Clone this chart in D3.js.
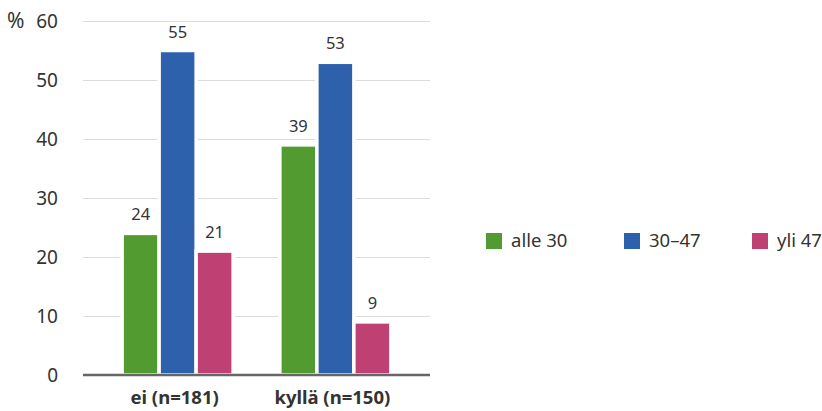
<!DOCTYPE html>
<html>
<head>
<meta charset="utf-8">
<script src="https://cdn.jsdelivr.net/npm/d3@7"></script>
<style>
  html, body { margin: 0; padding: 0; background: #fff; }
  svg text { font-family: "Noto Sans", "Open Sans", sans-serif; fill: #333; }
</style>
</head>
<body>
<svg id="chart" width="822" height="411"></svg>
<script>
// Age groups shown as series
const seriesNames = ["alle 30", "30–47", "yli 47"];
const seriesColors = ["#529b30", "#2e61ac", "#bf4073"];
// Categories on the x axis
const categories = ["ei (n=181)", "kyllä (n=150)"];
// Percentages, one array per series (same order as categories)
const alle30 = [24, 39];
const v30to47 = [55, 53];
const yli47 = [21, 9];
const yTicks = [0, 10, 20, 30, 40, 50, 60];

const values = [alle30, v30to47, yli47];

const svg = d3.select("#chart");
const plot = { left: 83, right: 430, top: 21, bottom: 375 };

const y = d3.scaleLinear().domain([0, 60]).range([plot.bottom, plot.top]);
const x = d3.scalePoint().domain(categories).range([plot.left, plot.right]).padding(0.6);
const xs = d3.scaleBand().domain(d3.range(seriesNames.length)).range([-55.5, 55.5]).padding(0);

// Gridlines (skip baseline)
svg.append("g")
  .selectAll("line")
  .data(yTicks.filter(d => d > 0))
  .join("line")
  .attr("x1", plot.left).attr("x2", plot.right)
  .attr("y1", d => Math.round(y(d)) + 0.5).attr("y2", d => Math.round(y(d)) + 0.5)
  .attr("stroke", "#dcdcdc").attr("stroke-width", 1);

// Y tick labels
svg.append("g")
  .selectAll("text")
  .data(yTicks)
  .join("text")
  .attr("x", 58).attr("y", d => y(d))
  .attr("dy", "0.35em")
  .attr("text-anchor", "end")
  .attr("font-size", 19)
  .text(d => d);

svg.append("text")
  .attr("x", 7).attr("y", y(60)).attr("dy", "0.35em")
  .attr("font-size", 21)
  .text("%");

// Bars
const groups = svg.append("g")
  .selectAll("g")
  .data(categories)
  .join("g")
  .attr("transform", d => `translate(${x(d)},0)`);

groups.each(function (cat, ci) {
  const g = d3.select(this);
  values.forEach((arr, si) => {
    const v = arr[ci];
    g.append("rect")
      .attr("x", xs(si))
      .attr("width", xs.bandwidth())
      .attr("y", y(v))
      .attr("height", y(0) - y(v))
      .attr("fill", seriesColors[si])
      .attr("stroke", "#fff")
      .attr("stroke-width", 3.5);
    g.append("text")
      .attr("x", xs(si) + xs.bandwidth() / 2)
      .attr("y", y(v) - 13)
      .attr("text-anchor", "middle")
      .attr("font-size", 16.5)
      .text(v);
  });
});

// Baseline
svg.append("line")
  .attr("x1", plot.left).attr("x2", plot.right)
  .attr("y1", y(0)).attr("y2", y(0))
  .attr("stroke", "#666").attr("stroke-width", 2.5);

// Category labels
svg.append("g")
  .selectAll("text")
  .data(categories)
  .join("text")
  .attr("x", d => x(d) - 3)
  .attr("y", 404)
  .attr("text-anchor", "middle")
  .attr("font-size", 18.5)
  .attr("font-weight", "bold")
  .text(d => d);

// Legend
const legendX = [486, 624, 752];
const legend = svg.append("g")
  .selectAll("g")
  .data(seriesNames)
  .join("g")
  .attr("transform", (d, i) => `translate(${legendX[i]},233)`);
legend.append("rect")
  .attr("width", 16).attr("height", 16)
  .attr("fill", (d, i) => seriesColors[i]);
legend.append("text")
  .attr("x", 25).attr("y", 8).attr("dy", "0.35em")
  .attr("font-size", 18.5)
  .text(d => d);
</script>
</body>
</html>
